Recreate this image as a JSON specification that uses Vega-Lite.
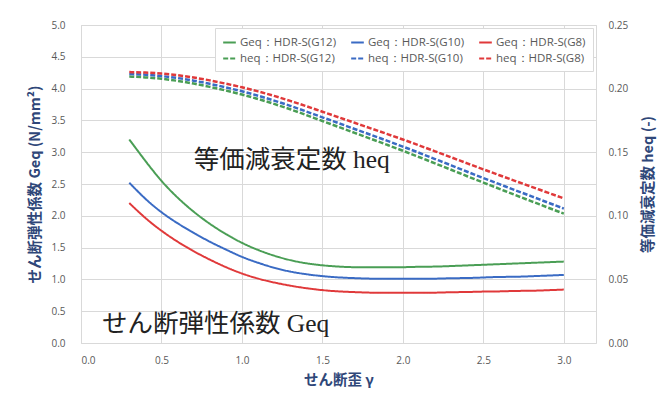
{
  "$schema": "https://vega.github.io/schema/vega-lite/v6.json",
  "autosize": {"type": "none"},
  "width": 515,
  "height": 318,
  "padding": {"left": 81, "top": 25, "right": 71, "bottom": 63},
  "background": "white",
  "config": {
    "view": {"stroke": "#D9D9D9"},
    "font": "Open Sans",
    "axis": {"labelColor": "#595959", "labelFontSize": 10, "gridColor": "#D9D9D9", "domain": false, "ticks": false, "titleColor": "#2F4779", "titleFontSize": 14.5, "titleFontWeight": "bold", "titleFont": "Noto Sans CJK JP"}
  },
  "datasets": {
    "curves": [
      {"g": 0.3, "Geq：HDR-S(G12)": 3.20, "Geq：HDR-S(G10)": 2.52, "Geq：HDR-S(G8)": 2.20, "heq：HDR-S(G12)": 0.2095, "heq：HDR-S(G10)": 0.2115, "heq：HDR-S(G8)": 0.2130},
      {"g": 0.4, "Geq：HDR-S(G12)": 2.86, "Geq：HDR-S(G10)": 2.26, "Geq：HDR-S(G8)": 1.96, "heq：HDR-S(G12)": 0.2089, "heq：HDR-S(G10)": 0.2110, "heq：HDR-S(G8)": 0.2127},
      {"g": 0.5, "Geq：HDR-S(G12)": 2.54, "Geq：HDR-S(G10)": 2.05, "Geq：HDR-S(G8)": 1.76, "heq：HDR-S(G12)": 0.2078, "heq：HDR-S(G10)": 0.2099, "heq：HDR-S(G8)": 0.2119},
      {"g": 0.6, "Geq：HDR-S(G12)": 2.28, "Geq：HDR-S(G10)": 1.88, "Geq：HDR-S(G8)": 1.59, "heq：HDR-S(G12)": 0.2062, "heq：HDR-S(G10)": 0.2084, "heq：HDR-S(G8)": 0.2106},
      {"g": 0.7, "Geq：HDR-S(G12)": 2.06, "Geq：HDR-S(G10)": 1.73, "Geq：HDR-S(G8)": 1.44, "heq：HDR-S(G12)": 0.2040, "heq：HDR-S(G10)": 0.2063, "heq：HDR-S(G8)": 0.2088},
      {"g": 0.8, "Geq：HDR-S(G12)": 1.87, "Geq：HDR-S(G10)": 1.59, "Geq：HDR-S(G8)": 1.31, "heq：HDR-S(G12)": 0.2014, "heq：HDR-S(G10)": 0.2038, "heq：HDR-S(G8)": 0.2065},
      {"g": 0.9, "Geq：HDR-S(G12)": 1.71, "Geq：HDR-S(G10)": 1.47, "Geq：HDR-S(G8)": 1.19, "heq：HDR-S(G12)": 0.1985, "heq：HDR-S(G10)": 0.2010, "heq：HDR-S(G8)": 0.2039},
      {"g": 1.0, "Geq：HDR-S(G12)": 1.57, "Geq：HDR-S(G10)": 1.35, "Geq：HDR-S(G8)": 1.09, "heq：HDR-S(G12)": 0.1954, "heq：HDR-S(G10)": 0.1979, "heq：HDR-S(G8)": 0.2011},
      {"g": 1.1, "Geq：HDR-S(G12)": 1.46, "Geq：HDR-S(G10)": 1.26, "Geq：HDR-S(G8)": 1.01, "heq：HDR-S(G12)": 0.1919, "heq：HDR-S(G10)": 0.1945, "heq：HDR-S(G8)": 0.1979},
      {"g": 1.2, "Geq：HDR-S(G12)": 1.37, "Geq：HDR-S(G10)": 1.18, "Geq：HDR-S(G8)": 0.95, "heq：HDR-S(G12)": 0.1880, "heq：HDR-S(G10)": 0.1906, "heq：HDR-S(G8)": 0.1943},
      {"g": 1.3, "Geq：HDR-S(G12)": 1.30, "Geq：HDR-S(G10)": 1.12, "Geq：HDR-S(G8)": 0.90, "heq：HDR-S(G12)": 0.1838, "heq：HDR-S(G10)": 0.1865, "heq：HDR-S(G8)": 0.1904},
      {"g": 1.4, "Geq：HDR-S(G12)": 1.25, "Geq：HDR-S(G10)": 1.08, "Geq：HDR-S(G8)": 0.86, "heq：HDR-S(G12)": 0.1792, "heq：HDR-S(G10)": 0.1820, "heq：HDR-S(G8)": 0.1862},
      {"g": 1.5, "Geq：HDR-S(G12)": 1.22, "Geq：HDR-S(G10)": 1.05, "Geq：HDR-S(G8)": 0.83, "heq：HDR-S(G12)": 0.1745, "heq：HDR-S(G10)": 0.1774, "heq：HDR-S(G8)": 0.1818},
      {"g": 1.6, "Geq：HDR-S(G12)": 1.20, "Geq：HDR-S(G10)": 1.03, "Geq：HDR-S(G8)": 0.81, "heq：HDR-S(G12)": 0.1699, "heq：HDR-S(G10)": 0.1729, "heq：HDR-S(G8)": 0.1775},
      {"g": 1.7, "Geq：HDR-S(G12)": 1.19, "Geq：HDR-S(G10)": 1.02, "Geq：HDR-S(G8)": 0.80, "heq：HDR-S(G12)": 0.1652, "heq：HDR-S(G10)": 0.1682, "heq：HDR-S(G8)": 0.1731},
      {"g": 1.8, "Geq：HDR-S(G12)": 1.19, "Geq：HDR-S(G10)": 1.01, "Geq：HDR-S(G8)": 0.79, "heq：HDR-S(G12)": 0.1606, "heq：HDR-S(G10)": 0.1637, "heq：HDR-S(G8)": 0.1688},
      {"g": 1.9, "Geq：HDR-S(G12)": 1.19, "Geq：HDR-S(G10)": 1.01, "Geq：HDR-S(G8)": 0.79, "heq：HDR-S(G12)": 0.1559, "heq：HDR-S(G10)": 0.1591, "heq：HDR-S(G8)": 0.1644},
      {"g": 2.0, "Geq：HDR-S(G12)": 1.19, "Geq：HDR-S(G10)": 1.01, "Geq：HDR-S(G8)": 0.79, "heq：HDR-S(G12)": 0.1512, "heq：HDR-S(G10)": 0.1544, "heq：HDR-S(G8)": 0.1600},
      {"g": 2.1, "Geq：HDR-S(G12)": 1.20, "Geq：HDR-S(G10)": 1.01, "Geq：HDR-S(G8)": 0.79, "heq：HDR-S(G12)": 0.1462, "heq：HDR-S(G10)": 0.1496, "heq：HDR-S(G8)": 0.1554},
      {"g": 2.2, "Geq：HDR-S(G12)": 1.20, "Geq：HDR-S(G10)": 1.01, "Geq：HDR-S(G8)": 0.79, "heq：HDR-S(G12)": 0.1412, "heq：HDR-S(G10)": 0.1446, "heq：HDR-S(G8)": 0.1507},
      {"g": 2.3, "Geq：HDR-S(G12)": 1.21, "Geq：HDR-S(G10)": 1.02, "Geq：HDR-S(G8)": 0.80, "heq：HDR-S(G12)": 0.1362, "heq：HDR-S(G10)": 0.1397, "heq：HDR-S(G8)": 0.1460},
      {"g": 2.4, "Geq：HDR-S(G12)": 1.22, "Geq：HDR-S(G10)": 1.02, "Geq：HDR-S(G8)": 0.80, "heq：HDR-S(G12)": 0.1311, "heq：HDR-S(G10)": 0.1346, "heq：HDR-S(G8)": 0.1412},
      {"g": 2.5, "Geq：HDR-S(G12)": 1.23, "Geq：HDR-S(G10)": 1.03, "Geq：HDR-S(G8)": 0.81, "heq：HDR-S(G12)": 0.1261, "heq：HDR-S(G10)": 0.1297, "heq：HDR-S(G8)": 0.1365},
      {"g": 2.6, "Geq：HDR-S(G12)": 1.24, "Geq：HDR-S(G10)": 1.04, "Geq：HDR-S(G8)": 0.81, "heq：HDR-S(G12)": 0.1212, "heq：HDR-S(G10)": 0.1249, "heq：HDR-S(G8)": 0.1319},
      {"g": 2.7, "Geq：HDR-S(G12)": 1.25, "Geq：HDR-S(G10)": 1.04, "Geq：HDR-S(G8)": 0.82, "heq：HDR-S(G12)": 0.1162, "heq：HDR-S(G10)": 0.1200, "heq：HDR-S(G8)": 0.1273},
      {"g": 2.8, "Geq：HDR-S(G12)": 1.26, "Geq：HDR-S(G10)": 1.05, "Geq：HDR-S(G8)": 0.82, "heq：HDR-S(G12)": 0.1114, "heq：HDR-S(G10)": 0.1153, "heq：HDR-S(G8)": 0.1228},
      {"g": 2.9, "Geq：HDR-S(G12)": 1.27, "Geq：HDR-S(G10)": 1.06, "Geq：HDR-S(G8)": 0.83, "heq：HDR-S(G12)": 0.1065, "heq：HDR-S(G10)": 0.1104, "heq：HDR-S(G8)": 0.1182},
      {"g": 3.0, "Geq：HDR-S(G12)": 1.28, "Geq：HDR-S(G10)": 1.07, "Geq：HDR-S(G8)": 0.84, "heq：HDR-S(G12)": 0.1017, "heq：HDR-S(G10)": 0.1057, "heq：HDR-S(G8)": 0.1137}
    ],
    "notes": [
      {"g": 0.7, "v": 2.88, "label": "等価減衰定数 heq"},
      {"g": 0.13, "v": 0.30, "label": "せん断弾性係数 Geq"}
    ]
  },
  "layer": [
    {
      "data": {"name": "curves"},
      "transform": [{"fold": ["Geq：HDR-S(G12)", "Geq：HDR-S(G10)", "Geq：HDR-S(G8)"], "as": ["series", "value"]}],
      "mark": {"type": "line", "strokeWidth": 2, "interpolate": "basis"},
      "encoding": {
        "x": {"field": "g", "type": "quantitative", "scale": {"domain": [0, 3.2], "nice": false}, "axis": {"values": [0, 0.5, 1, 1.5, 2, 2.5, 3], "format": ".1f", "title": "せん断歪 γ", "labelPadding": 12, "titlePadding": 8}},
        "y": {"field": "value", "type": "quantitative", "scale": {"domain": [0, 5], "nice": false}, "axis": {"values": [0, 0.5, 1, 1.5, 2, 2.5, 3, 3.5, 4, 4.5, 5], "format": ".1f", "title": "せん断弾性係数 Geq (N/mm²)", "labelPadding": 16, "titlePadding": 8}},
        "color": {"field": "series", "type": "nominal", "scale": {"domain": ["Geq：HDR-S(G12)", "heq：HDR-S(G12)", "Geq：HDR-S(G10)", "heq：HDR-S(G10)", "Geq：HDR-S(G8)", "heq：HDR-S(G8)"], "range": ["#4A9E55", "#4A9E55", "#3A6BC4", "#3A6BC4", "#E0393A", "#E0393A"]}, "legend": {"title": null, "orient": "top-right", "columns": 3, "offset": 3, "fillColor": "white", "strokeColor": "#D9D9D9", "padding": 7, "labelColor": "#595959", "labelFontSize": 11.5, "symbolType": "stroke", "symbolSize": 160, "symbolStrokeWidth": 2, "columnPadding": 10, "rowPadding": 3, "labelOffset": 3}},
        "strokeDash": {"field": "series", "type": "nominal", "scale": {"domain": ["Geq：HDR-S(G12)", "heq：HDR-S(G12)", "Geq：HDR-S(G10)", "heq：HDR-S(G10)", "Geq：HDR-S(G8)", "heq：HDR-S(G8)"], "range": [[1, 0], [5, 2], [1, 0], [5, 2], [1, 0], [5, 2]]}, "legend": {"title": null, "orient": "top-right", "columns": 3}}
      }
    },
    {
      "data": {"name": "curves"},
      "transform": [{"fold": ["heq：HDR-S(G12)", "heq：HDR-S(G10)", "heq：HDR-S(G8)"], "as": ["series", "value"]}],
      "mark": {"type": "line", "strokeWidth": 2.5, "interpolate": "basis"},
      "encoding": {
        "x": {"field": "g", "type": "quantitative"},
        "y": {"field": "value", "type": "quantitative", "scale": {"domain": [0, 0.25], "nice": false}, "axis": {"orient": "right", "values": [0, 0.05, 0.1, 0.15, 0.2, 0.25], "format": ".2f", "grid": false, "title": "等価減衰定数 heq (-)", "titleAngle": -90, "titleBaseline": "top", "labelPadding": 12, "titlePadding": 14}},
        "color": {"field": "series", "type": "nominal"},
        "strokeDash": {"field": "series", "type": "nominal"}
      }
    },
    {
      "data": {"name": "notes"},
      "mark": {"type": "text", "align": "left", "baseline": "middle", "font": "Liberation Serif, Noto Sans CJK JP", "fontSize": 25.5, "color": "#222222"},
      "encoding": {
        "x": {"field": "g", "type": "quantitative"},
        "y": {"field": "v", "type": "quantitative", "scale": {"domain": [0, 5], "nice": false}, "axis": null},
        "text": {"field": "label"}
      }
    }
  ],
  "resolve": {"scale": {"y": "independent"}}
}
